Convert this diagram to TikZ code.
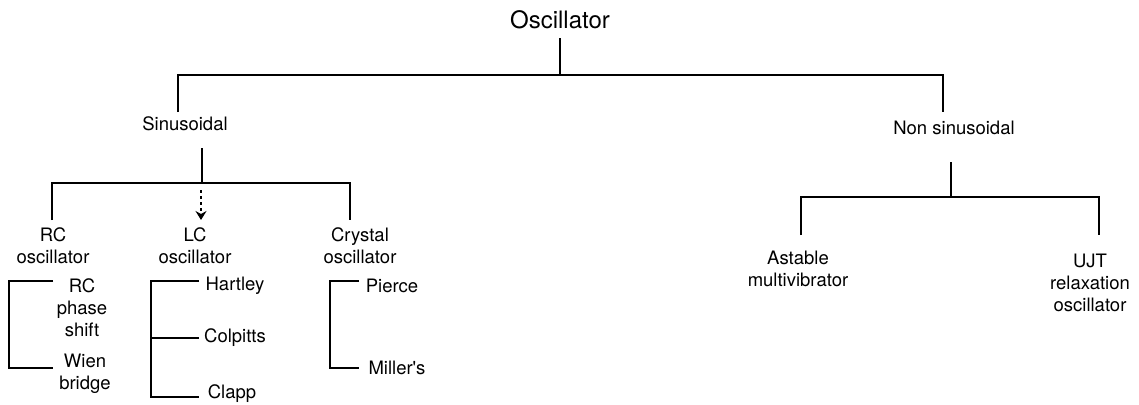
\documentclass[tikz,border=0pt]{standalone}
\usepackage{fontspec}
\setmainfont{TeX Gyre Heros}
\usetikzlibrary{arrows.meta,positioning}

\begin{document}
\begin{tikzpicture}[
    x=1pt, y=-1pt,
    title/.style={inner sep=0pt, font=\fontsize{24}{28}\selectfont},
    kind/.style={inner sep=0pt, align=center, font=\fontsize{18.5}{22}\selectfont},
    link/.style={line width=2.5pt},
    arrow/.style={-{Stealth[length=9pt,width=11pt,inset=3pt]}, line width=1.5pt, dash pattern=on 3pt off 3pt}
]
\useasboundingbox (0,0) rectangle (1139,404);

% texts
\node (osc) [title] at (560,20) {Oscillator};
\node (sin) [kind] at (185,124) {Sinusoidal};
\node (nsin) [kind] at (954,128) {Non sinusoidal};
\node (rc) [kind] at (53,246) {RC\\oscillator};
\node (lc) [kind] at (195,246) {LC\\oscillator};
\node (xtal) [kind] at (360,246) {Crystal\\oscillator};
\node (rcps) [kind] at (82,308) {RC\\phase\\shift};
\node (wien) [kind] at (85,374) {Wien\\bridge};
\node (hart) [kind] at (235,286) {Hartley};
\node (colp) [kind] at (235,338) {Colpitts};
\node (clapp) [kind] at (232,394) {Clapp};
\node (pierce) [kind] at (392,286) {Pierce};
\node (miller) [kind] at (397,368) {Miller\textquotesingle s};
\node (astab) [kind] at (798,269) {Astable\\multivibrator};
\node (ujt) [kind] at (1090,283) {UJT\\relaxation\\oscillator};

% joints
\coordinate (j0) at (560,75);
\coordinate (a1) at (178,112);
\coordinate (a2) at (943,112);
\coordinate (s0) at (202,148);
\coordinate (j1) at (202,183);
\coordinate (b1) at (52,220);
\coordinate (b3) at (350,220);
\coordinate (d0) at (201,190);
\coordinate (d1) at (201,220);
\coordinate (n0) at (951,162);
\coordinate (j2) at (951,197);
\coordinate (e1) at (801,235);
\coordinate (e2) at (1099,235);
\coordinate (r1) at (53,281);
\coordinate (r2) at (53,368);
\coordinate (l1) at (199,281);
\coordinate (l2) at (199,338);
\coordinate (l3) at (199,397);
\coordinate (c1) at (359,281);
\coordinate (c2) at (359,368);

% tree
\draw [link] ([yshift=-9pt]osc.south) -- (j0);
\draw [link] (a1) |- (j0) -| (a2);
\draw [link] (s0) -- (j1);
\draw [link] (b1) |- (j1) -| (b3);
\draw [arrow] (d0) -- (d1);
\draw [link] (n0) -- (j2);
\draw [link] (e1) |- (j2) -| (e2);

% brackets
\draw [link] (r1) -- ++(-44,0) |- (r2);
\draw [link] (l1) -- ++(-48,0) |- (l3);
\draw [link] (l2) -- ++(-48,0);
\draw [link] (c1) -- ++(-29,0) |- (c2);
\end{tikzpicture}
\end{document}
